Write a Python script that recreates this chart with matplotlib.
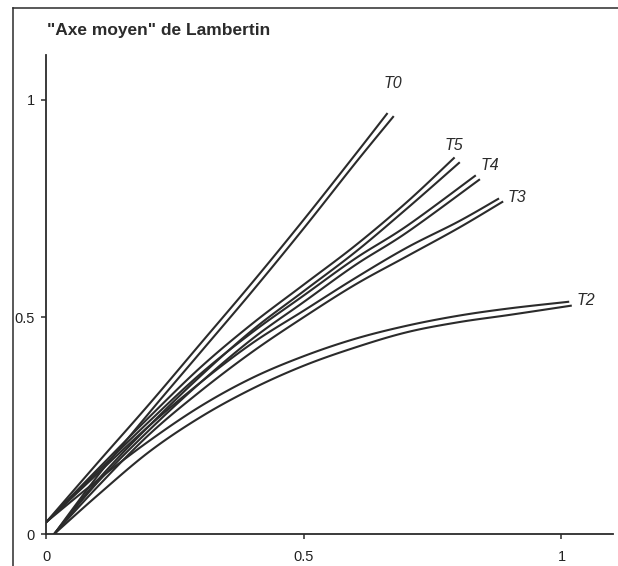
import numpy as np
import matplotlib
matplotlib.use("Agg")
import matplotlib.pyplot as plt
from matplotlib.lines import Line2D

plt.rcParams['font.family'] = ['Liberation Sans', 'DejaVu Sans']

# each series is drawn as a pair of traces (upper / lower)
t0_up_x = [0, 0.1, 0.2, 0.3, 0.4, 0.5, 0.6, 0.661]
t0_up_y = [0.028, 0.165, 0.30, 0.44, 0.58, 0.725, 0.875, 0.968]
t0_lo_x = [0.015, 0.1, 0.2, 0.3, 0.4, 0.5, 0.6, 0.673]
t0_lo_y = [0, 0.135, 0.28, 0.42, 0.56, 0.705, 0.855, 0.961]

t5_up_x = [0, 0.1, 0.2, 0.3, 0.4, 0.5, 0.6, 0.7, 0.791]
t5_up_y = [0.028, 0.15, 0.27, 0.385, 0.485, 0.575, 0.665, 0.765, 0.866]
t5_lo_x = [0.015, 0.1, 0.2, 0.3, 0.4, 0.5, 0.6, 0.7, 0.801]
t5_lo_y = [0, 0.125, 0.25, 0.365, 0.47, 0.56, 0.65, 0.75, 0.855]

t4_up_x = [0, 0.1, 0.2, 0.3, 0.4, 0.5, 0.6, 0.7, 0.832]
t4_up_y = [0.028, 0.145, 0.26, 0.37, 0.465, 0.55, 0.635, 0.71, 0.825]
t4_lo_x = [0.015, 0.1, 0.2, 0.3, 0.4, 0.5, 0.6, 0.7, 0.84]
t4_lo_y = [0, 0.12, 0.24, 0.35, 0.45, 0.535, 0.62, 0.695, 0.816]

t3_up_x = [0, 0.1, 0.2, 0.3, 0.4, 0.5, 0.6, 0.7, 0.8, 0.877]
t3_up_y = [0.028, 0.14, 0.25, 0.35, 0.44, 0.515, 0.59, 0.66, 0.72, 0.772]
t3_lo_x = [0.015, 0.1, 0.2, 0.3, 0.4, 0.5, 0.6, 0.7, 0.8, 0.885]
t3_lo_y = [0, 0.11, 0.23, 0.33, 0.42, 0.50, 0.575, 0.64, 0.705, 0.765]

t2_up_x = [0, 0.1, 0.2, 0.3, 0.4, 0.5, 0.6, 0.7, 0.8, 0.9, 1.013]
t2_up_y = [0.028, 0.125, 0.215, 0.295, 0.36, 0.41, 0.45, 0.48, 0.503, 0.52, 0.535]
t2_lo_x = [0.015, 0.1, 0.2, 0.3, 0.4, 0.5, 0.6, 0.7, 0.8, 0.9, 1.018]
t2_lo_y = [0, 0.09, 0.19, 0.27, 0.335, 0.388, 0.43, 0.465, 0.488, 0.505, 0.526]

labels = ["T0", "T5", "T4", "T3", "T2"]
label_x = [0.673, 0.791, 0.861, 0.913, 1.048]
label_y = [1.038, 0.896, 0.848, 0.776, 0.539]

ticks = [0, 0.5, 1]
tick_labels = ["0", "0.5", "1"]

ink = "#2b2b2b"


def smooth(xs, ys, n=12):
    """Catmull-Rom pass through the read points, so the traces have no kinks."""
    p = np.column_stack([xs, ys]).astype(float)
    p = np.vstack([p[0], p, p[-1]])
    out = []
    t = np.linspace(0, 1, n, endpoint=False)[:, None]
    for i in range(1, len(p) - 2):
        p0, p1, p2, p3 = p[i - 1], p[i], p[i + 1], p[i + 2]
        seg = 0.5 * ((2 * p1) + (-p0 + p2) * t + (2 * p0 - 5 * p1 + 4 * p2 - p3) * t ** 2
                     + (-p0 + 3 * p1 - 3 * p2 + p3) * t ** 3)
        out.append(seg)
    out.append(p[-2][None, :])
    out = np.vstack(out)
    return out[:, 0], out[:, 1]


fig = plt.figure(figsize=(6.18, 5.66), dpi=100)
ax = fig.add_axes([0.0752, 0.0565, 0.9167, 0.8466])

pairs = [
    (t0_up_x, t0_up_y, t0_lo_x, t0_lo_y),
    (t5_up_x, t5_up_y, t5_lo_x, t5_lo_y),
    (t4_up_x, t4_up_y, t4_lo_x, t4_lo_y),
    (t3_up_x, t3_up_y, t3_lo_x, t3_lo_y),
    (t2_up_x, t2_up_y, t2_lo_x, t2_lo_y),
]
for ux, uy, lx, ly in pairs:
    ax.plot(*smooth(ux, uy), color=ink, lw=1.5, solid_joinstyle="round")
    ax.plot(*smooth(lx, ly), color=ink, lw=1.5, solid_joinstyle="round")

for name, x, y in zip(labels, label_x, label_y):
    ax.text(x, y, name, fontsize=11.5, style="italic", color=ink,
            ha="center", va="center")

ax.set_xlim(0, 1.10)
ax.set_ylim(0, 1.104)
ax.set_xticks(ticks, tick_labels)
ax.set_yticks(ticks, tick_labels)
ax.spines["top"].set_visible(False)
ax.spines["right"].set_visible(False)
for s in ("left", "bottom"):
    ax.spines[s].set_color(ink)
    ax.spines[s].set_linewidth(1.3)
ax.tick_params(axis="both", direction="out", length=3.5, width=1.1,
               color=ink, labelcolor="#222222", labelsize=10.5)
ax.tick_params(axis="x", pad=8)
ax.tick_params(axis="y", pad=5)

fig.text(0.076, 0.938, "\"Axe moyen\" de Lambertin", fontsize=12.5,
         fontweight="bold", color=ink, ha="left", va="baseline")

# outer frame of the scanned figure (left and top edges)
fig.add_artist(Line2D([13 / 618, 13 / 618], [0, 1 - 8 / 566],
                      transform=fig.transFigure, color=ink, lw=1.1))
fig.add_artist(Line2D([13 / 618, 1], [1 - 8 / 566, 1 - 8 / 566],
                      transform=fig.transFigure, color=ink, lw=1.1))

fig.savefig("out.png", dpi=100)
